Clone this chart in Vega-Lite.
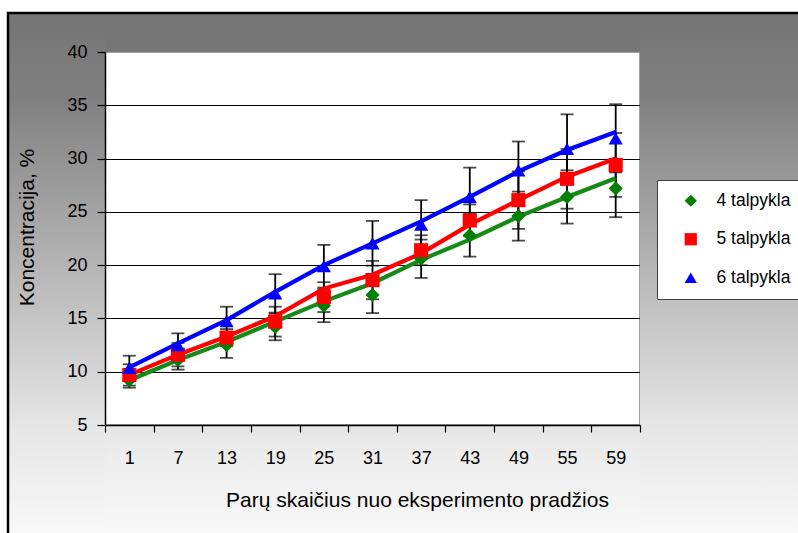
{
  "$schema": "https://vega.github.io/schema/vega-lite/v6.json",
  "width": 535,
  "height": 373,
  "autosize": {"type": "none"},
  "padding": {"left": 105, "top": 52, "right": 158, "bottom": 108},
  "background": "white",
  "config": {
    "font": "Liberation Sans",
    "view": {"stroke": "#808080", "strokeWidth": 1.5, "fill": "white"}
  },
  "resolve": {"scale": {"x": "independent", "y": "independent"}, "axis": {"x": "independent", "y": "independent"}},
  "layer": [
    {
      "data": {"values": [{}]},
      "layer": [
        {
          "mark": {"type": "rect", "fill": {"gradient": "linear", "x1": 0, "y1": 0, "x2": 0, "y2": 1, "stops": [
            {"offset": 0, "color": "#757575"},
            {"offset": 0.16, "color": "#808080"},
            {"offset": 0.47, "color": "#b6b6b6"},
            {"offset": 0.76, "color": "#e6e6e6"},
            {"offset": 0.95, "color": "#f8f8f8"},
            {"offset": 1, "color": "#fafafa"}]}},
          "encoding": {
            "x": {"datum": -0.1813, "type": "quantitative", "scale": {"domain": [0, 1]}, "axis": null},
            "x2": {"datum": 0},
            "y": {"datum": -7.6, "type": "quantitative", "scale": {"domain": [5, 40], "nice": false, "zero": false},
              "axis": {"orient": "left", "values": [10, 15, 20, 25, 30, 35], "grid": true, "gridColor": "black", "gridWidth": 1,
                "labels": false, "ticks": false, "domain": false, "title": null, "maxExtent": 0, "minExtent": 0}},
            "y2": {"datum": 43.66}
          }
        },
        {
          "mark": {"type": "rect", "fill": {"gradient": "linear", "x1": 0, "y1": 0, "x2": 0, "y2": 1, "stops": [
            {"offset": 0, "color": "#757575"},
            {"offset": 0.16, "color": "#808080"},
            {"offset": 0.47, "color": "#b6b6b6"},
            {"offset": 0.76, "color": "#e6e6e6"},
            {"offset": 0.95, "color": "#f8f8f8"},
            {"offset": 1, "color": "#fafafa"}]}},
          "encoding": {
            "x": {"datum": 1, "type": "quantitative"},
            "x2": {"datum": 1.5},
            "y": {"datum": -7.6, "type": "quantitative"},
            "y2": {"datum": 43.66}
          }
        },
        {
          "mark": {"type": "rect", "fill": "#767676"},
          "encoding": {
            "x": {"datum": 0, "type": "quantitative"},
            "x2": {"datum": 1},
            "y": {"datum": 40, "type": "quantitative"},
            "y2": {"datum": 43.66}
          }
        },
        {
          "mark": {"type": "rect", "fill": {"gradient": "linear", "x1": 0, "y1": 0, "x2": 0, "y2": 1, "stops": [
            {"offset": 0, "color": "#e4e4e4"},
            {"offset": 0.2, "color": "#ececec"},
            {"offset": 0.8, "color": "#f8f8f8"},
            {"offset": 1, "color": "#fafafa"}]}},
          "encoding": {
            "x": {"datum": 0, "type": "quantitative"},
            "x2": {"datum": 1},
            "y": {"datum": -7.6, "type": "quantitative"},
            "y2": {"datum": 5}
          }
        },
        {
          "mark": {"type": "rect", "filled": false, "stroke": "black", "strokeWidth": 2.5},
          "encoding": {
            "x": {"datum": -0.1813, "type": "quantitative"},
            "x2": {"datum": 1.5},
            "y": {"datum": -12.5, "type": "quantitative"},
            "y2": {"datum": 43.66}
          }
        }
      ]
    },
    {
      "data": {"values": [
        {"serija": "4 talpykla", "diena": 1, "y": 9.2, "err": 0.7, "fit": 9.2},
        {"serija": "4 talpykla", "diena": 7, "y": 11.1, "err": 0.9, "fit": 11.1},
        {"serija": "4 talpykla", "diena": 13, "y": 12.5, "err": 1.2, "fit": 12.8},
        {"serija": "4 talpykla", "diena": 19, "y": 14.2, "err": 1.25, "fit": 14.7},
        {"serija": "4 talpykla", "diena": 25, "y": 16.2, "err": 1.55, "fit": 16.6},
        {"serija": "4 talpykla", "diena": 31, "y": 17.2, "err": 1.7, "fit": 18.3},
        {"serija": "4 talpykla", "diena": 37, "y": 20.6, "err": 1.8, "fit": 20.5},
        {"serija": "4 talpykla", "diena": 43, "y": 22.8, "err": 2.0, "fit": 22.4},
        {"serija": "4 talpykla", "diena": 49, "y": 24.6, "err": 2.3, "fit": 24.55},
        {"serija": "4 talpykla", "diena": 55, "y": 26.4, "err": 2.5, "fit": 26.4},
        {"serija": "4 talpykla", "diena": 59, "y": 27.2, "err": 2.7, "fit": 28.15},
        {"serija": "5 talpykla", "diena": 1, "y": 9.7, "err": 1.0, "fit": 9.7},
        {"serija": "5 talpykla", "diena": 7, "y": 11.6, "err": 1.1, "fit": 11.6},
        {"serija": "5 talpykla", "diena": 13, "y": 13.2, "err": 0.8, "fit": 13.3},
        {"serija": "5 talpykla", "diena": 19, "y": 14.7, "err": 1.4, "fit": 15.2},
        {"serija": "5 talpykla", "diena": 25, "y": 17.0, "err": 1.4, "fit": 17.8},
        {"serija": "5 talpykla", "diena": 31, "y": 18.6, "err": 1.8, "fit": 19.1},
        {"serija": "5 talpykla", "diena": 37, "y": 21.4, "err": 1.4, "fit": 21.1},
        {"serija": "5 talpykla", "diena": 43, "y": 24.2, "err": 1.5, "fit": 23.8},
        {"serija": "5 talpykla", "diena": 49, "y": 26.1, "err": 2.7, "fit": 26.1},
        {"serija": "5 talpykla", "diena": 55, "y": 28.1, "err": 2.8, "fit": 28.3},
        {"serija": "5 talpykla", "diena": 59, "y": 29.4, "err": 3.0, "fit": 30.0},
        {"serija": "6 talpykla", "diena": 1, "y": 10.35, "err": 1.15, "fit": 10.4},
        {"serija": "6 talpykla", "diena": 7, "y": 12.5, "err": 1.1, "fit": 12.65},
        {"serija": "6 talpykla", "diena": 13, "y": 14.75, "err": 1.35, "fit": 14.85},
        {"serija": "6 talpykla", "diena": 19, "y": 17.35, "err": 1.8, "fit": 17.5},
        {"serija": "6 talpykla", "diena": 25, "y": 19.9, "err": 2.0, "fit": 20.0},
        {"serija": "6 talpykla", "diena": 31, "y": 22.05, "err": 2.1, "fit": 22.05},
        {"serija": "6 talpykla", "diena": 37, "y": 23.8, "err": 2.3, "fit": 24.1},
        {"serija": "6 talpykla", "diena": 43, "y": 26.4, "err": 2.75, "fit": 26.4},
        {"serija": "6 talpykla", "diena": 49, "y": 28.9, "err": 2.7, "fit": 28.8},
        {"serija": "6 talpykla", "diena": 55, "y": 30.9, "err": 3.25, "fit": 30.8},
        {"serija": "6 talpykla", "diena": 59, "y": 31.9, "err": 3.2, "fit": 32.5}
      ]},
      "encoding": {
        "x": {
          "field": "diena", "type": "ordinal",
          "scale": {"type": "band", "paddingInner": 0, "paddingOuter": 0},
          "axis": {
            "orient": "bottom", "zindex": 1,
            "title": "Parų skaičius nuo eksperimento pradžios",
            "labelAngle": 0, "tickBand": "extent", "grid": false,
            "domainColor": "black", "domainWidth": 1.5,
            "tickColor": "black", "tickWidth": 1.2, "tickSize": 7,
            "labelFontSize": 18, "labelColor": "black", "labelPadding": 17,
            "titleFontSize": 21, "titleFontWeight": "normal", "titleColor": "black", "titlePadding": 22,
            "titleX": 312, "titleAlign": "center"
          }
        }
      },
      "layer": [
        {
          "mark": {"type": "errorbar", "color": "black", "ticks": {"size": 13, "thickness": 1.8, "color": "black"}, "rule": {"strokeWidth": 1.8, "color": "black"}},
          "encoding": {
            "y": {
              "field": "y", "type": "quantitative", "title": "Koncentracija, %",
              "scale": {"domain": [5, 40], "nice": false, "zero": false},
              "axis": {
                "orient": "left", "zindex": 1,
                "values": [5, 10, 15, 20, 25, 30, 35, 40],
                "grid": false,
                "domainColor": "black", "domainWidth": 1.5,
                "tickColor": "black", "tickWidth": 1.2, "tickSize": 8,
                "labelFontSize": 18, "labelColor": "black", "labelPadding": 10,
                "titleFontSize": 21, "titleFontWeight": "normal", "titleColor": "black", "titlePadding": 29,
                "titleY": 175
              }
            },
            "yError": {"field": "err"}
          }
        },
        {
          "mark": {"type": "line", "strokeWidth": 4.2},
          "encoding": {
            "y": {"field": "fit", "type": "quantitative", "title": "Koncentracija, %"},
            "stroke": {
              "field": "serija", "type": "nominal",
              "scale": {"domain": ["6 talpykla", "5 talpykla", "4 talpykla"], "range": ["#0000ff", "#ff0000", "#168a16"]},
              "legend": null
            }
          }
        },
        {
          "mark": {"type": "point", "filled": true, "opacity": 1, "size": 200},
          "encoding": {
            "y": {"field": "y", "type": "quantitative", "title": "Koncentracija, %"},
            "color": {
              "field": "serija", "type": "nominal",
              "scale": {"domain": ["4 talpykla", "5 talpykla", "6 talpykla"], "range": ["#008000", "#ff0000", "#0000ff"]},
              "legend": {
                "orient": "none", "legendX": 552, "legendY": 128, "title": null, "zindex": 2,
                "fillColor": "white", "strokeColor": "#404040",
                "padding": 12, "labelFontSize": 17.5, "labelColor": "black",
                "symbolSize": 150, "rowPadding": 19.5, "symbolOffset": 13, "labelOffset": 17,
                "labelLimit": 200, "symbolStrokeWidth": 0
              }
            },
            "shape": {
              "field": "serija", "type": "nominal",
              "scale": {"domain": ["4 talpykla", "5 talpykla", "6 talpykla"], "range": ["diamond", "square", "triangle-up"]}
            }
          }
        }
      ]
    }
  ]
}
